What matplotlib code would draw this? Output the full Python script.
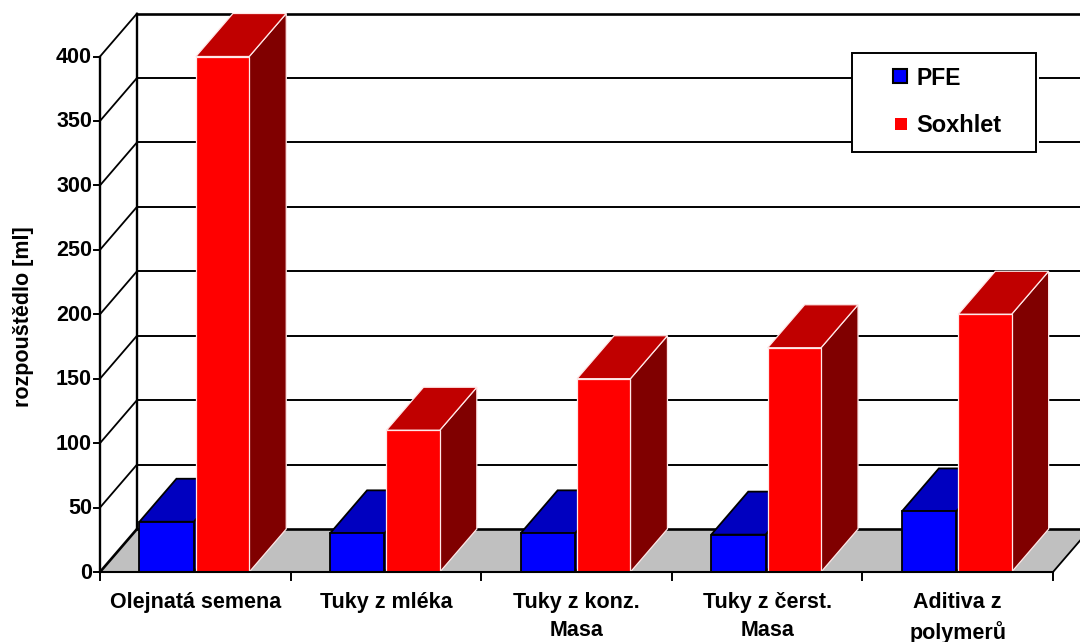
import matplotlib
matplotlib.use("Agg")
import matplotlib.pyplot as plt
from matplotlib.patches import Polygon, Rectangle

categories = ["Olejnatá semena", "Tuky z mléka", "Tuky z konz.\nMasa", "Tuky z čerst.\nMasa", "Aditiva z\npolymerů"]
pfe = [39, 30, 30, 29, 47]
soxhlet = [400, 110, 150, 174, 200]
yticks = [0, 50, 100, 150, 200, 250, 300, 350, 400]

W, H = 1080, 642
plt.rcParams['font.family'] = ['Liberation Sans', 'DejaVu Sans']
fig = plt.figure(figsize=(W/100, H/100), dpi=100, facecolor='white')
L, R, B, T = 100, 1053, 572, 56.5
ax = fig.add_axes([L/W, 1-B/H, (R-L)/W, (B-T)/H])
ax.set_xlim(0, 5)
ax.set_ylim(0, 400)
ax.axis('off')

DX = 37/((R-L)/5)
DY = 43/((B-T)/400)
OFF1, BW1, OFF2, BW2 = 0.207, 0.285, 0.503, 0.28

def poly(pts, fc, z, ec='black', lw=1.0):
    ax.add_patch(Polygon(pts, closed=True, fc=fc, ec=ec, lw=lw, zorder=z, clip_on=False, joinstyle='miter'))

# floor
poly([(0, 0), (5, 0), (5+DX, DY), (DX, DY)], '#c0c0c0', 1, ec='none')
# wall gridlines and diagonals
xright = 5 + DX
for v in yticks:
    wide = v in (0, 400)
    ax.plot([0, DX], [v, v+DY], color='black', lw=1.9 if v == 0 else 1.3, zorder=1.5, clip_on=False)
    ax.plot([DX, xright], [v+DY, v+DY], color='black', lw=1.9 if wide else 1.4, zorder=1.5, clip_on=False)
ax.plot([DX, DX], [DY, 400+DY], color='black', lw=1.7, zorder=1.5, clip_on=False)
ax.plot([5, 5+DX], [0, DY], color='black', lw=1.3, zorder=1.5, clip_on=False)
# front axes
ax.plot([0, 0], [0, 400], color='black', lw=1.7, zorder=30, clip_on=False)
ax.plot([0, 5], [0, 0], color='black', lw=1.5, zorder=30, clip_on=False)
for v in yticks:
    ax.plot([-0.03, 0], [v, v], color='black', lw=1.4, zorder=30, clip_on=False)
    ax.text(-0.042, v-0.8, str(v), ha='right', va='center', fontsize=15.5, fontweight='bold', clip_on=False)
for i in range(6):
    ax.plot([i, i], [0, -6], color='black', lw=1.4, zorder=30, clip_on=False)

def bar3d(x0, w, h, front, top, side, z, ec, lw):
    poly([(x0+w, 0), (x0+w+DX, DY), (x0+w+DX, h+DY), (x0+w, h)], side, z, ec=ec, lw=lw)
    poly([(x0, h), (x0+w, h), (x0+w+DX, h+DY), (x0+DX, h+DY)], top, z, ec=ec, lw=lw)
    poly([(x0, 0), (x0+w, 0), (x0+w, h), (x0, h)], front, z+0.1, ec=ec, lw=lw)

for i in range(5):
    bar3d(i+OFF1, BW1, pfe[i], '#0000ff', '#0000c0', '#000080', 3+i, 'black', 1.3)
    bar3d(i+OFF2, BW2, soxhlet[i], '#ff0000', '#c00000', '#800000', 3.5+i, '#ffe8e8', 0.9)
    ax.text(i+0.5, -15.5, categories[i], ha='center', va='top', fontsize=15.5, fontweight='bold',
            linespacing=1.45, clip_on=False)

ax.text(-0.4, 198, "rozpouštědlo [ml]", rotation=90, ha='center', va='center',
        fontsize=15.5, fontweight='bold', clip_on=False)

# legend
def px(x, y):
    return ax.transData.inverted().transform((x, H-y))
a = px(851.5, 153); b = px(1039, 52)
ax.add_patch(Rectangle(a, b[0]-a[0], b[1]-a[1], fc='white', ec='none', zorder=19, clip_on=False))
a = px(851.5, 152); b = px(1036, 53)
ax.add_patch(Rectangle(a, b[0]-a[0], b[1]-a[1], fc='white', ec='black', lw=1.4, zorder=20, clip_on=False))
p1 = px(893, 83); p1b = px(907, 69.5)
ax.add_patch(Rectangle(p1, p1b[0]-p1[0], p1b[1]-p1[1], fc='#0000ff', ec='black', lw=1.5, zorder=21, clip_on=False))
p2 = px(894.5, 130); p2b = px(906.5, 118)
ax.add_patch(Rectangle(p2, p2b[0]-p2[0], p2b[1]-p2[1], fc='#ff0000', ec='none', zorder=21, clip_on=False))
t = px(916, 78.5); ax.text(t[0], t[1], "PFE", ha='left', va='center', fontsize=16.5, fontweight='bold', zorder=21)
t = px(916, 126); ax.text(t[0], t[1], "Soxhlet", ha='left', va='center', fontsize=17, fontweight='bold', zorder=21)

fig.savefig("out.png", dpi=100, facecolor='white')
